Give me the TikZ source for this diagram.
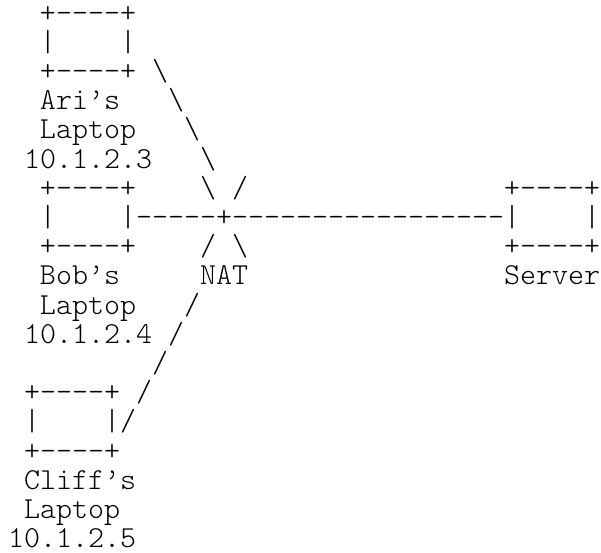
\documentclass[tikz,border=0pt]{standalone}
\usepackage{fontspec}
\setmonofont{Latin Modern Mono Light}
\begin{document}
\begin{tikzpicture}[x=0.75pt,y=-0.75pt,
  ascii/.style={inner sep=0pt,outer sep=0pt,anchor=base west,
    font=\fontsize{22.86pt}{24pt}\ttfamily}]
\useasboundingbox (0,0) rectangle (601,553);
\def\colw{16}\def\rowh{29.2}\def\xo{8}\def\yo{22}
\newcommand\ch[4]{\node[ascii] (#1) at ({\xo+\colw*#2},{\yo+\rowh*(#3-1)}) {#4};}
% Ari's laptop
\ch{ariTop}{2}{1}{+----+}
\ch{ariL}{2}{2}{|}
\ch{ariR}{7}{2}{|}
\ch{ariBot}{2}{3}{+----+}
\ch{ariName}{2}{4}{Ari’s}
\ch{ariLap}{2}{5}{Laptop}
\ch{ariIP}{1}{6}{10.1.2.3}
% Ari link
\ch{aA}{9}{3}{\textbackslash}
\ch{aB}{10}{4}{\textbackslash}
\ch{aC}{11}{5}{\textbackslash}
\ch{aD}{12}{6}{\textbackslash}
\ch{aE}{12}{7}{\textbackslash}
% Bob's laptop
\ch{bobTop}{2}{7}{+----+}
\ch{bobL}{2}{8}{|}
\ch{bobBot}{2}{9}{+----+}
\ch{bobName}{2}{10}{Bob’s}
\ch{bobLap}{2}{11}{Laptop}
\ch{bobIP}{1}{12}{10.1.2.4}
% NAT and link to server
\ch{natA}{14}{7}{/}
\ch{link}{7}{8}{|-----+-----------------|}
\ch{natB}{12}{9}{/}
\ch{natC}{14}{9}{\textbackslash}
\ch{nat}{12}{10}{NAT}
% Server
\ch{srvTop}{31}{7}{+----+}
\ch{srvR}{36}{8}{|}
\ch{srvBot}{31}{9}{+----+}
\ch{srvName}{31}{10}{Server}
% Cliff link
\ch{cA}{11}{11}{/}
\ch{cB}{10}{12}{/}
\ch{cC}{9}{13}{/}
\ch{cD}{8}{14}{/}
% Cliff's laptop
\ch{clTop}{1}{14}{+----+}
\ch{clL}{1}{15}{|}
\ch{clR}{6}{15}{|/}
\ch{clBot}{1}{16}{+----+}
\ch{clName}{1}{17}{Cliff’s}
\ch{clLap}{1}{18}{Laptop}
\ch{clIP}{0}{19}{10.1.2.5}
\end{tikzpicture}
\end{document}
